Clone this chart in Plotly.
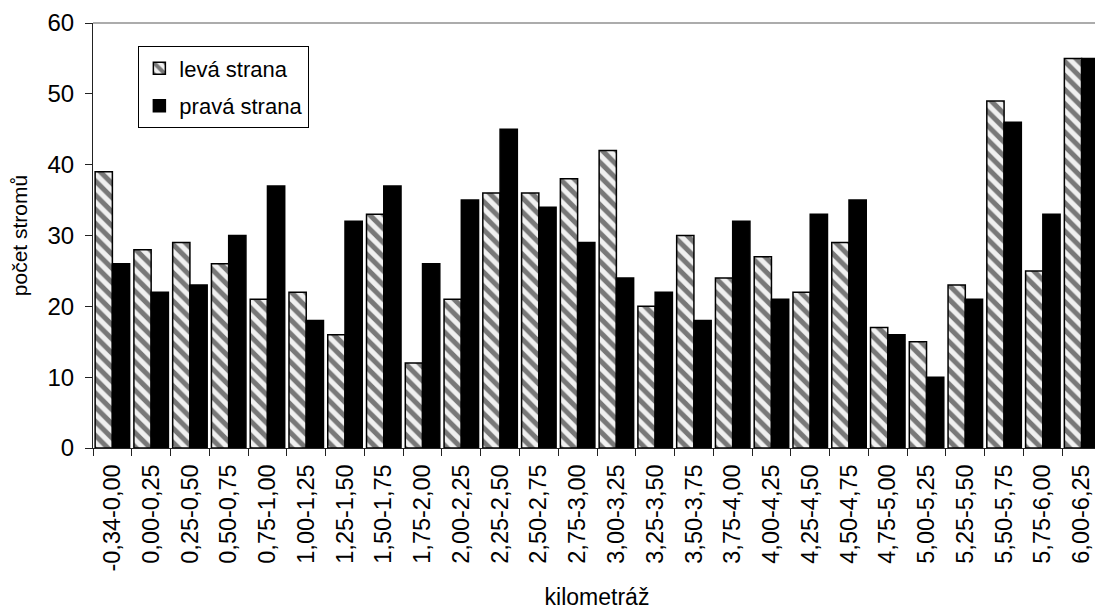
import plotly.graph_objects as go

categories = ["-0,34-0,00", "0,00-0,25", "0,25-0,50", "0,50-0,75", "0,75-1,00",
              "1,00-1,25", "1,25-1,50", "1,50-1,75", "1,75-2,00", "2,00-2,25",
              "2,25-2,50", "2,50-2,75", "2,75-3,00", "3,00-3,25", "3,25-3,50",
              "3,50-3,75", "3,75-4,00", "4,00-4,25", "4,25-4,50", "4,50-4,75",
              "4,75-5,00", "5,00-5,25", "5,25-5,50", "5,50-5,75", "5,75-6,00",
              "6,00-6,25"]
leva = [39, 28, 29, 26, 21, 22, 16, 33, 12, 21, 36, 36, 38, 42, 20, 30, 24, 27,
        22, 29, 17, 15, 23, 49, 25, 55]
prava = [26, 22, 23, 30, 37, 18, 32, 37, 26, 35, 45, 34, 29, 24, 22, 18, 32, 21,
         33, 35, 16, 10, 21, 46, 33, 55]
y_ticks = [0, 10, 20, 30, 40, 50, 60]

FONT = "Liberation Sans, Arial, sans-serif"

fig = go.Figure()
fig.add_trace(go.Bar(
    x=categories, y=leva, name="levá strana", legendgroup="a",
    marker=dict(color="#f0f0f0", line=dict(color="black", width=1.5),
                pattern=dict(shape="\\", fgcolor="#000000", bgcolor="#f0f0f0",
                             size=10, solidity=0.5)),
))
fig.add_trace(go.Bar(
    x=categories, y=prava, name="pravá strana", legendgroup="b",
    marker=dict(color="black", line=dict(color="black", width=1.5)),
))

fig.update_layout(
    width=1095, height=602,
    margin=dict(l=85, r=2, t=15, b=162),
    paper_bgcolor="white", plot_bgcolor="white",
    font=dict(family=FONT, size=22, color="black"),
    barmode="group", bargap=0.11, bargroupgap=0,
    showlegend=True,
    legend=dict(x=0.045, y=0.945, xanchor="left", yanchor="top",
                bgcolor="white", bordercolor="black", borderwidth=1,
                font=dict(size=22), traceorder="grouped", tracegroupgap=6,
                itemwidth=30),
    xaxis=dict(
        title=dict(text="kilometráž", font=dict(size=23), standoff=18),
        tickangle=-90, tickfont=dict(size=23.5), ticklabelstandoff=6,
        showline=True, linecolor="#222", linewidth=1,
        ticks="outside", ticklen=7, tickcolor="#222", tickson="boundaries",
        showgrid=False,
    ),
    yaxis=dict(
        title=dict(text="počet stromů", font=dict(size=21), standoff=21),
        range=[0, 60], tickvals=y_ticks, tickfont=dict(size=24),
        ticklabelstandoff=6,
        showline=True, linecolor="#222", linewidth=1,
        ticks="outside", ticklen=7, tickcolor="#222",
        showgrid=False, zeroline=False,
    ),
    shapes=[dict(type="line", xref="paper", yref="paper", x0=0, x1=1, y0=1, y1=1,
                 line=dict(color="#909090", width=1.5))],
)

fig.write_html("out.html")
